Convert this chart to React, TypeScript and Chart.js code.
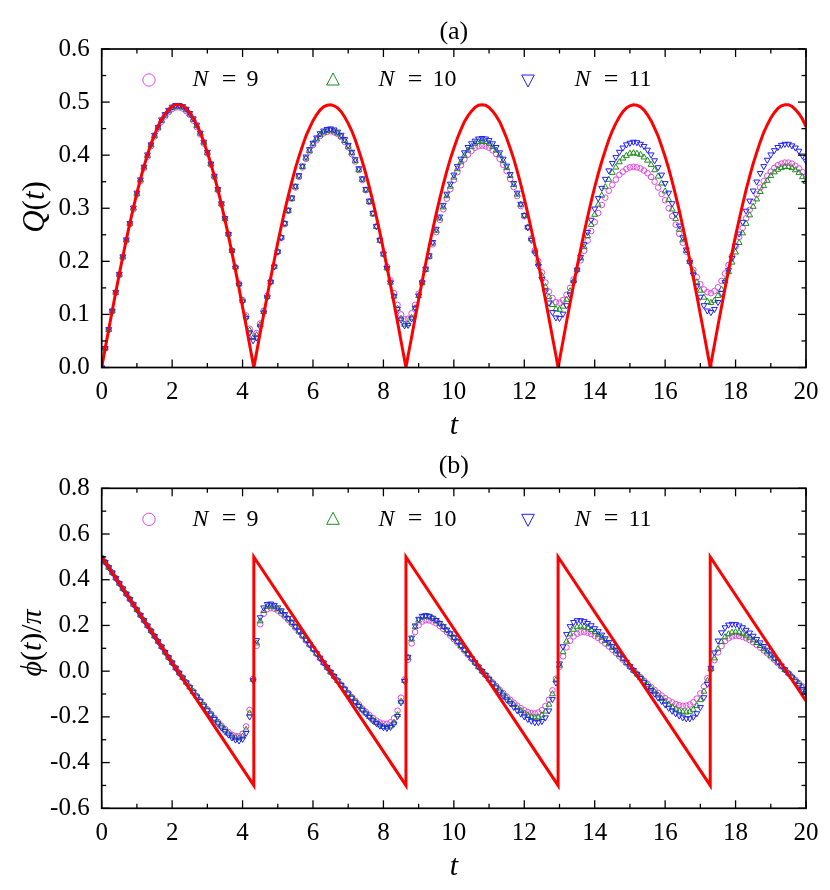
import React, { useEffect, useRef } from "react";
import { Chart, registerables } from "chart.js";

Chart.register(...registerables);

// ---------------- data ----------------
const T = [
  0, 0.1, 0.2, 0.3, 0.4, 0.5, 0.6, 0.7, 0.8, 0.9,
  1, 1.1, 1.2, 1.3, 1.4, 1.5, 1.6, 1.7, 1.8, 1.9,
  2, 2.1, 2.2, 2.3, 2.4, 2.5, 2.6, 2.7, 2.8, 2.9,
  3, 3.1, 3.2, 3.3, 3.4, 3.5, 3.6, 3.7, 3.8, 3.9,
  4, 4.1, 4.2, 4.3, 4.4, 4.5, 4.6, 4.7, 4.8, 4.9,
  5, 5.1, 5.2, 5.3, 5.4, 5.5, 5.6, 5.7, 5.8, 5.9,
  6, 6.1, 6.2, 6.3, 6.4, 6.5, 6.6, 6.7, 6.8, 6.9,
  7, 7.1, 7.2, 7.3, 7.4, 7.5, 7.6, 7.7, 7.8, 7.9,
  8, 8.1, 8.2, 8.3, 8.4, 8.5, 8.6, 8.7, 8.8, 8.9,
  9, 9.1, 9.2, 9.3, 9.4, 9.5, 9.6, 9.7, 9.8, 9.9,
  10, 10.1, 10.2, 10.3, 10.4, 10.5, 10.6, 10.7, 10.8, 10.9,
  11, 11.1, 11.2, 11.3, 11.4, 11.5, 11.6, 11.7, 11.8, 11.9,
  12, 12.1, 12.2, 12.3, 12.4, 12.5, 12.6, 12.7, 12.8, 12.9,
  13, 13.1, 13.2, 13.3, 13.4, 13.5, 13.6, 13.7, 13.8, 13.9,
  14, 14.1, 14.2, 14.3, 14.4, 14.5, 14.6, 14.7, 14.8, 14.9,
  15, 15.1, 15.2, 15.3, 15.4, 15.5, 15.6, 15.7, 15.8, 15.9,
  16, 16.1, 16.2, 16.3, 16.4, 16.5, 16.6, 16.7, 16.8, 16.9,
  17, 17.1, 17.2, 17.3, 17.4, 17.5, 17.6, 17.7, 17.8, 17.9,
  18, 18.1, 18.2, 18.3, 18.4, 18.5, 18.6, 18.7, 18.8, 18.9,
  19, 19.1, 19.2, 19.3, 19.4, 19.5, 19.6, 19.7, 19.8, 19.9,
  20,
];

// Panel (a): exact Q(t) (red line), sampled on T, plus its zeros
const Q_RED = [
  0, 0.036, 0.072, 0.107, 0.142, 0.176, 0.209, 0.241, 0.272, 0.301, 0.329, 0.355, 0.379, 0.401, 0.421, 0.439, 0.454, 0.468, 0.478, 0.486, 0.492, 0.495,
  0.495, 0.493, 0.488, 0.48, 0.47, 0.457, 0.443, 0.425, 0.405, 0.384, 0.36, 0.335, 0.307, 0.278, 0.248, 0.216, 0.183, 0.149, 0.114, 0.079, 0.043, 0.007,
  0.029, 0.065, 0.1, 0.135, 0.169, 0.202, 0.235, 0.266, 0.296, 0.324, 0.35, 0.375, 0.397, 0.417, 0.436, 0.451, 0.465, 0.476, 0.485, 0.491, 0.494, 0.495,
  0.493, 0.489, 0.482, 0.472, 0.46, 0.446, 0.429, 0.409, 0.388, 0.365, 0.34, 0.313, 0.284, 0.254, 0.222, 0.19, 0.156, 0.121, 0.086, 0.05, 0.014,
  0.022, 0.057, 0.093, 0.128, 0.162, 0.196, 0.229, 0.26, 0.29, 0.318, 0.345, 0.37, 0.393, 0.413, 0.432, 0.448, 0.463, 0.474, 0.483, 0.49, 0.494, 0.495,
  0.494, 0.49, 0.483, 0.474, 0.463, 0.448, 0.432, 0.413, 0.393, 0.37, 0.345, 0.318, 0.29, 0.26, 0.229, 0.196, 0.162, 0.128, 0.093, 0.057, 0.022,
  0.014, 0.05, 0.086, 0.121, 0.156, 0.19, 0.222, 0.254, 0.284, 0.313, 0.34, 0.365, 0.388, 0.409, 0.429, 0.446, 0.46, 0.472, 0.482, 0.489, 0.493, 0.495,
  0.494, 0.491, 0.485, 0.476, 0.465, 0.451, 0.436, 0.417, 0.397, 0.375, 0.35, 0.324, 0.296, 0.266, 0.235, 0.202, 0.169, 0.135, 0.1, 0.065, 0.029,
  0.007, 0.043, 0.079, 0.114, 0.149, 0.183, 0.216, 0.248, 0.278, 0.307, 0.335, 0.36, 0.384, 0.405, 0.425, 0.443, 0.457, 0.47, 0.48, 0.488, 0.493, 0.495,
  0.495, 0.492, 0.486, 0.478, 0.468, 0.454,
];
const Q_RED_ZERO_T = [4.32, 8.64, 12.96, 17.28];
const Q_RED_ZERO = [0, 0, 0, 0];

const Q_N9 = [
  0, 0.036, 0.071, 0.106, 0.141, 0.174, 0.207, 0.239, 0.27, 0.298, 0.326, 0.351, 0.375, 0.397, 0.417, 0.435, 0.45, 0.463, 0.473, 0.481, 0.487, 0.49,
  0.49, 0.488, 0.483, 0.476, 0.465, 0.453, 0.439, 0.422, 0.403, 0.382, 0.359, 0.334, 0.307, 0.28, 0.251, 0.22, 0.189, 0.158, 0.127, 0.098, 0.073, 0.06,
  0.065, 0.083, 0.107, 0.135, 0.162, 0.19, 0.218, 0.244, 0.27, 0.295, 0.318, 0.339, 0.359, 0.377, 0.393, 0.407, 0.419, 0.428, 0.436, 0.441, 0.444, 0.445,
  0.443, 0.44, 0.434, 0.425, 0.415, 0.402, 0.388, 0.372, 0.353, 0.334, 0.312, 0.29, 0.266, 0.241, 0.215, 0.19, 0.164, 0.14, 0.118, 0.1, 0.091,
  0.092, 0.102, 0.118, 0.139, 0.161, 0.185, 0.209, 0.232, 0.255, 0.278, 0.298, 0.318, 0.336, 0.353, 0.368, 0.381, 0.392, 0.401, 0.408, 0.414, 0.417, 0.418,
  0.417, 0.414, 0.409, 0.402, 0.393, 0.382, 0.37, 0.355, 0.34, 0.323, 0.304, 0.285, 0.264, 0.243, 0.221, 0.2, 0.179, 0.16, 0.143, 0.131, 0.123,
  0.122, 0.127, 0.137, 0.15, 0.166, 0.184, 0.202, 0.22, 0.239, 0.257, 0.274, 0.291, 0.306, 0.32, 0.333, 0.344, 0.354, 0.363, 0.369, 0.374, 0.377, 0.378,
  0.377, 0.375, 0.371, 0.366, 0.359, 0.35, 0.339, 0.327, 0.315, 0.3, 0.285, 0.269, 0.252, 0.235, 0.218, 0.201, 0.184, 0.17, 0.157, 0.147, 0.142,
  0.14, 0.144, 0.151, 0.163, 0.177, 0.193, 0.21, 0.228, 0.246, 0.263, 0.281, 0.297, 0.312, 0.326, 0.339, 0.351, 0.361, 0.369, 0.376, 0.381, 0.384, 0.386,
  0.386, 0.384, 0.38, 0.375, 0.368, 0.359,
];

const Q_N10 = [
  0, 0.036, 0.071, 0.106, 0.141, 0.175, 0.208, 0.24, 0.271, 0.3, 0.327, 0.353, 0.377, 0.399, 0.419, 0.436, 0.452, 0.465, 0.475, 0.483, 0.489, 0.492,
  0.492, 0.49, 0.485, 0.477, 0.467, 0.455, 0.441, 0.424, 0.404, 0.383, 0.36, 0.335, 0.308, 0.28, 0.251, 0.22, 0.189, 0.157, 0.126, 0.095, 0.07, 0.056,
  0.061, 0.08, 0.105, 0.133, 0.161, 0.19, 0.218, 0.245, 0.271, 0.295, 0.318, 0.34, 0.36, 0.378, 0.394, 0.408, 0.421, 0.43, 0.438, 0.443, 0.446, 0.447,
  0.445, 0.441, 0.435, 0.427, 0.416, 0.404, 0.389, 0.372, 0.354, 0.334, 0.312, 0.289, 0.265, 0.239, 0.213, 0.187, 0.16, 0.134, 0.111, 0.092, 0.081,
  0.082, 0.094, 0.112, 0.135, 0.159, 0.184, 0.209, 0.234, 0.258, 0.281, 0.302, 0.323, 0.341, 0.358, 0.374, 0.387, 0.399, 0.409, 0.416, 0.422, 0.425, 0.426,
  0.425, 0.422, 0.416, 0.409, 0.4, 0.389, 0.376, 0.361, 0.344, 0.326, 0.307, 0.286, 0.264, 0.242, 0.219, 0.196, 0.173, 0.152, 0.133, 0.118, 0.11,
  0.109, 0.115, 0.128, 0.144, 0.163, 0.184, 0.206, 0.227, 0.248, 0.269, 0.288, 0.307, 0.324, 0.34, 0.354, 0.367, 0.377, 0.387, 0.394, 0.399, 0.403, 0.404,
  0.403, 0.401, 0.396, 0.39, 0.382, 0.372, 0.36, 0.347, 0.332, 0.316, 0.298, 0.28, 0.26, 0.24, 0.22, 0.199, 0.18, 0.161, 0.145, 0.132, 0.124,
  0.122, 0.126, 0.135, 0.147, 0.163, 0.18, 0.198, 0.217, 0.235, 0.253, 0.271, 0.287, 0.303, 0.317, 0.331, 0.342, 0.352, 0.361, 0.368, 0.373, 0.376, 0.378,
  0.378, 0.376, 0.372, 0.367, 0.359, 0.35,
];

const Q_N11 = [
  0, 0.036, 0.072, 0.107, 0.142, 0.176, 0.209, 0.241, 0.272, 0.301, 0.329, 0.354, 0.378, 0.401, 0.42, 0.438, 0.453, 0.467, 0.477, 0.485, 0.491, 0.494,
  0.494, 0.492, 0.487, 0.479, 0.469, 0.457, 0.442, 0.425, 0.406, 0.384, 0.361, 0.336, 0.309, 0.281, 0.251, 0.22, 0.188, 0.156, 0.124, 0.093, 0.066, 0.051,
  0.056, 0.077, 0.103, 0.132, 0.161, 0.19, 0.218, 0.245, 0.272, 0.297, 0.32, 0.342, 0.362, 0.38, 0.397, 0.411, 0.423, 0.433, 0.441, 0.446, 0.449, 0.45,
  0.448, 0.444, 0.438, 0.43, 0.419, 0.406, 0.392, 0.375, 0.356, 0.336, 0.314, 0.291, 0.266, 0.24, 0.214, 0.187, 0.16, 0.134, 0.11, 0.09, 0.079,
  0.08, 0.092, 0.112, 0.135, 0.16, 0.186, 0.211, 0.236, 0.261, 0.284, 0.306, 0.327, 0.346, 0.363, 0.379, 0.393, 0.405, 0.415, 0.422, 0.427, 0.431, 0.432,
  0.431, 0.428, 0.422, 0.415, 0.405, 0.393, 0.38, 0.364, 0.347, 0.329, 0.308, 0.287, 0.264, 0.24, 0.216, 0.191, 0.166, 0.143, 0.122, 0.104, 0.094,
  0.093, 0.101, 0.117, 0.137, 0.16, 0.184, 0.208, 0.232, 0.255, 0.278, 0.299, 0.319, 0.338, 0.355, 0.371, 0.385, 0.396, 0.406, 0.414, 0.42, 0.423, 0.425,
  0.424, 0.421, 0.417, 0.41, 0.401, 0.39, 0.377, 0.363, 0.347, 0.329, 0.309, 0.289, 0.267, 0.245, 0.222, 0.198, 0.175, 0.153, 0.133, 0.117, 0.107,
  0.104, 0.11, 0.123, 0.14, 0.161, 0.183, 0.206, 0.229, 0.252, 0.274, 0.295, 0.314, 0.333, 0.35, 0.366, 0.379, 0.391, 0.401, 0.409, 0.415, 0.419, 0.421,
  0.421, 0.418, 0.414, 0.408, 0.399, 0.389,
];

// Panel (b): exact phase (red sawtooth) and numerical phases
const PHI_RED_T = [0, 4.32, 4.32, 8.64, 8.64, 12.96, 12.96, 17.28, 17.28, 20];
const PHI_RED = [0.5, -0.5, 0.5, -0.5, 0.5, -0.5, 0.5, -0.5, 0.5, -0.13];

const PHI_N9 = [
  0.495, 0.477, 0.454, 0.431, 0.407, 0.384, 0.361, 0.338, 0.315, 0.292, 0.269, 0.245, 0.222, 0.199, 0.176, 0.153, 0.13, 0.107, 0.083, 0.06, 0.037, 0.014,
  -0.008, -0.028, -0.049, -0.069, -0.089, -0.109, -0.129, -0.148, -0.167, -0.186, -0.204, -0.222, -0.238, -0.253, -0.267, -0.278, -0.284, -0.285, -0.274, -0.242, -0.17, -0.033,
  0.111, 0.205, 0.251, 0.271, 0.276, 0.273, 0.265, 0.253, 0.239, 0.224, 0.207, 0.19, 0.172, 0.153, 0.134, 0.115, 0.096, 0.076, 0.056, 0.036, 0.016, -0.004,
  -0.022, -0.041, -0.059, -0.077, -0.095, -0.113, -0.13, -0.146, -0.163, -0.178, -0.192, -0.205, -0.216, -0.225, -0.23, -0.23, -0.224, -0.206, -0.173, -0.116, -0.036,
  0.05, 0.121, 0.171, 0.201, 0.217, 0.223, 0.222, 0.217, 0.209, 0.198, 0.185, 0.171, 0.156, 0.14, 0.124, 0.107, 0.09, 0.072, 0.054, 0.036, 0.018, 0,
  -0.016, -0.033, -0.049, -0.065, -0.081, -0.096, -0.111, -0.125, -0.138, -0.151, -0.162, -0.171, -0.179, -0.183, -0.185, -0.181, -0.171, -0.153, -0.125, -0.084, -0.033,
  0.019, 0.065, 0.104, 0.133, 0.152, 0.164, 0.17, 0.171, 0.168, 0.162, 0.154, 0.145, 0.133, 0.121, 0.108, 0.094, 0.08, 0.065, 0.05, 0.034, 0.019, 0.003,
  -0.012, -0.026, -0.041, -0.055, -0.069, -0.082, -0.095, -0.107, -0.118, -0.128, -0.137, -0.144, -0.149, -0.152, -0.151, -0.146, -0.136, -0.12, -0.097, -0.067, -0.031,
  0.008, 0.048, 0.082, 0.11, 0.131, 0.144, 0.152, 0.155, 0.154, 0.15, 0.144, 0.136, 0.126, 0.115, 0.103, 0.091, 0.078, 0.064, 0.05, 0.035, 0.021, 0.006,
  -0.009, -0.024, -0.038, -0.053, -0.067, -0.08,
];

const PHI_N10 = [
  0.495, 0.477, 0.454, 0.431, 0.407, 0.384, 0.361, 0.338, 0.315, 0.292, 0.269, 0.245, 0.222, 0.199, 0.176, 0.153, 0.13, 0.107, 0.083, 0.06, 0.037, 0.014,
  -0.008, -0.029, -0.049, -0.07, -0.09, -0.11, -0.13, -0.15, -0.17, -0.189, -0.207, -0.225, -0.242, -0.258, -0.273, -0.284, -0.292, -0.294, -0.286, -0.256, -0.184, -0.037,
  0.122, 0.219, 0.264, 0.282, 0.285, 0.281, 0.271, 0.259, 0.244, 0.228, 0.211, 0.193, 0.175, 0.156, 0.136, 0.117, 0.097, 0.077, 0.057, 0.037, 0.016, -0.004,
  -0.023, -0.042, -0.061, -0.079, -0.098, -0.116, -0.134, -0.151, -0.168, -0.184, -0.2, -0.214, -0.226, -0.236, -0.243, -0.245, -0.241, -0.225, -0.192, -0.133, -0.042,
  0.059, 0.14, 0.193, 0.222, 0.236, 0.24, 0.237, 0.23, 0.22, 0.208, 0.194, 0.179, 0.163, 0.146, 0.129, 0.111, 0.093, 0.075, 0.056, 0.038, 0.019, 0,
  -0.017, -0.035, -0.052, -0.069, -0.085, -0.101, -0.117, -0.133, -0.147, -0.161, -0.173, -0.184, -0.193, -0.2, -0.203, -0.201, -0.193, -0.176, -0.146, -0.1, -0.04,
  0.025, 0.084, 0.13, 0.162, 0.182, 0.193, 0.196, 0.195, 0.189, 0.181, 0.171, 0.16, 0.147, 0.133, 0.118, 0.103, 0.087, 0.071, 0.054, 0.037, 0.02, 0.003,
  -0.013, -0.029, -0.045, -0.061, -0.076, -0.091, -0.106, -0.12, -0.133, -0.146, -0.157, -0.166, -0.174, -0.179, -0.18, -0.177, -0.168, -0.152, -0.126, -0.089, -0.042,
  0.01, 0.057, 0.097, 0.128, 0.149, 0.162, 0.169, 0.171, 0.169, 0.164, 0.156, 0.147, 0.136, 0.124, 0.111, 0.097, 0.083, 0.068, 0.053, 0.038, 0.022, 0.006,
  -0.009, -0.025, -0.041, -0.056, -0.071, -0.086,
];

const PHI_N11 = [
  0.495, 0.477, 0.454, 0.431, 0.407, 0.384, 0.361, 0.338, 0.315, 0.292, 0.269, 0.245, 0.222, 0.199, 0.176, 0.153, 0.13, 0.107, 0.083, 0.06, 0.037, 0.014,
  -0.008, -0.029, -0.05, -0.071, -0.091, -0.112, -0.132, -0.152, -0.172, -0.191, -0.21, -0.229, -0.247, -0.263, -0.278, -0.291, -0.3, -0.304, -0.297, -0.271, -0.199, -0.041,
  0.135, 0.235, 0.278, 0.293, 0.295, 0.289, 0.278, 0.265, 0.249, 0.232, 0.215, 0.196, 0.177, 0.158, 0.138, 0.118, 0.098, 0.078, 0.058, 0.037, 0.017, -0.004,
  -0.023, -0.042, -0.061, -0.08, -0.099, -0.117, -0.135, -0.153, -0.17, -0.186, -0.201, -0.216, -0.228, -0.239, -0.246, -0.249, -0.245, -0.23, -0.197, -0.137, -0.044,
  0.062, 0.146, 0.199, 0.228, 0.241, 0.244, 0.241, 0.233, 0.223, 0.21, 0.196, 0.181, 0.165, 0.148, 0.13, 0.112, 0.094, 0.075, 0.057, 0.038, 0.019, 0,
  -0.018, -0.036, -0.054, -0.072, -0.09, -0.107, -0.124, -0.141, -0.157, -0.172, -0.186, -0.199, -0.21, -0.218, -0.224, -0.224, -0.219, -0.203, -0.173, -0.123, -0.051,
  0.033, 0.108, 0.162, 0.196, 0.214, 0.222, 0.222, 0.218, 0.21, 0.2, 0.187, 0.174, 0.159, 0.143, 0.127, 0.11, 0.093, 0.076, 0.058, 0.04, 0.022, 0.004,
  -0.014, -0.031, -0.049, -0.066, -0.083, -0.099, -0.116, -0.131, -0.146, -0.161, -0.174, -0.185, -0.195, -0.203, -0.207, -0.207, -0.2, -0.185, -0.158, -0.115, -0.056,
  0.014, 0.081, 0.133, 0.169, 0.191, 0.203, 0.206, 0.205, 0.199, 0.191, 0.18, 0.168, 0.154, 0.14, 0.125, 0.109, 0.093, 0.076, 0.059, 0.042, 0.024, 0.007,
  -0.011, -0.028, -0.045, -0.062, -0.079, -0.096,
];

const LEGEND_NUMBERS = ["9", "10", "11"];

// ---------------- styling ----------------
const COLOR_N9 = "rgb(222, 70, 222)";
const COLOR_N10 = "rgb(30, 140, 30)";
const COLOR_N11 = "rgb(30, 30, 255)";
const COLOR_RED = "#ff0000";
const FONT = '"Liberation Serif", "DejaVu Serif", "Times New Roman", serif';

type Part = { t: string; it?: boolean };

function drawParts(
  ctx: CanvasRenderingContext2D,
  parts: Part[],
  size: number,
  cx: number,
  cy: number,
  rot: number,
  align: "center" | "left" = "center"
) {
  ctx.save();
  ctx.translate(cx, cy);
  if (rot) ctx.rotate(rot);
  const fontFor = (p: Part) => `${p.it ? "italic " : ""}${size}px ${FONT}`;
  const widths = parts.map((p) => {
    ctx.font = fontFor(p);
    return ctx.measureText(p.t).width;
  });
  const total = widths.reduce((a, b) => a + b, 0);
  let x = align === "center" ? -total / 2 : 0;
  ctx.textBaseline = "middle";
  ctx.textAlign = "left";
  ctx.fillStyle = "#000";
  parts.forEach((p, i) => {
    ctx.font = fontFor(p);
    ctx.fillText(p.t, x, 0);
    x += widths[i];
  });
  ctx.restore();
}

function drawSymbol(ctx: CanvasRenderingContext2D, shape: string, x: number, y: number, color: string) {
  ctx.save();
  ctx.strokeStyle = color;
  ctx.lineWidth = 1;
  ctx.beginPath();
  if (shape === "circle") {
    ctx.arc(x, y, 6.2, 0, Math.PI * 2);
  } else if (shape === "up") {
    ctx.moveTo(x, y - 7);
    ctx.lineTo(x + 6.3, y + 5);
    ctx.lineTo(x - 6.3, y + 5);
    ctx.closePath();
  } else {
    ctx.moveTo(x, y + 7);
    ctx.lineTo(x + 6.3, y - 5);
    ctx.lineTo(x - 6.3, y - 5);
    ctx.closePath();
  }
  ctx.stroke();
  ctx.restore();
}

type PanelSpec = {
  height: number;
  areaTop: number;
  areaBottom: number;
  yMin: number;
  yMax: number;
  yStep: number;
  title: string;
  titleY: number;
  yLabel: Part[];
  yLabelSize: number;
  yLabelX: number;
  yLabelY: number;
  tLabelY: number;
  legendY: number;
  red: { x: number; y: number }[];
  n9: number[];
  n10: number[];
  n11: number[];
};

function decorPlugin(spec: PanelSpec) {
  return {
    id: "decor",
    afterDraw(chart: any) {
      const ctx: CanvasRenderingContext2D = chart.ctx;
      const a = chart.chartArea;
      const xs = chart.scales.x;
      const ys = chart.scales.y;
      ctx.save();
      ctx.strokeStyle = "#000";
      ctx.lineWidth = 1.7;
      ctx.strokeRect(a.left, a.top, a.right - a.left, a.bottom - a.top);
      ctx.lineWidth = 1.3;
      const seg = (x1: number, y1: number, x2: number, y2: number) => {
        ctx.beginPath();
        ctx.moveTo(x1, y1);
        ctx.lineTo(x2, y2);
        ctx.stroke();
      };
      const withMinor = (vals: number[]) => {
        const out: [number, boolean][] = [];
        for (let i = 0; i < vals.length; i++) {
          out.push([vals[i], true]);
          if (i < vals.length - 1) out.push([(vals[i] + vals[i + 1]) / 2, false]);
        }
        return out;
      };
      withMinor(xs.ticks.map((t: any) => t.value)).forEach(([v, major]) => {
        const p = xs.getPixelForValue(v);
        const L = major ? 8 : 4.5;
        seg(p, a.bottom, p, a.bottom - L);
        seg(p, a.top, p, a.top + L);
      });
      withMinor(ys.ticks.map((t: any) => t.value)).forEach(([v, major]) => {
        const p = ys.getPixelForValue(v);
        const L = major ? 8 : 4.5;
        seg(a.left, p, a.left + L, p);
        seg(a.right, p, a.right - L, p);
      });
      ctx.restore();

      // title, axis titles
      drawParts(ctx, [{ t: spec.title }], 26, (a.left + a.right) / 2, spec.titleY, 0);
      drawParts(ctx, [{ t: "t", it: true }], 30, (a.left + a.right) / 2, spec.tLabelY, 0);
      drawParts(ctx, spec.yLabel, spec.yLabelSize, spec.yLabelX, spec.yLabelY, -Math.PI / 2);

      // legend
      const items = [
        { shape: "circle", color: COLOR_N9, sx: 149, tx: 192.5, num: LEGEND_NUMBERS[0] },
        { shape: "up", color: COLOR_N10, sx: 333, tx: 378.5, num: LEGEND_NUMBERS[1] },
        { shape: "down", color: COLOR_N11, sx: 528, tx: 574.5, num: LEGEND_NUMBERS[2] },
      ];
      items.forEach((it) => {
        drawSymbol(ctx, it.shape, it.sx, spec.legendY, it.color);
        drawParts(ctx, [{ t: "N", it: true }], 24, it.tx, spec.legendY, 0, "left");
        drawParts(ctx, [{ t: "=" }], 26, it.tx + 36.5, spec.legendY, 0, "center");
        drawParts(ctx, [{ t: it.num }], 24, it.tx + 54, spec.legendY, 0, "left");
      });
    },
  };
}

function makeChart(canvas: HTMLCanvasElement, spec: PanelSpec) {
  const pts = (ys: number[]) => T.map((x, i) => ({ x, y: ys[i] }));
  const marker = (label: string, ys: number[], color: string, style: string, rot: number, r: number, order: number) => ({
    label,
    data: pts(ys),
    showLine: false,
    pointStyle: style,
    rotation: rot,
    pointRadius: r,
    pointHoverRadius: r,
    pointBorderWidth: 1,
    borderColor: color,
    pointBorderColor: color,
    backgroundColor: "rgba(0,0,0,0)",
    pointBackgroundColor: "rgba(0,0,0,0)",
    order,
  });
  const fmtY = (v: number) => (Math.abs(v) < 1e-9 ? "0.0" : Number(v).toFixed(1));
  return new Chart(canvas, {
    type: "scatter",
    data: {
      datasets: [
        {
          label: "exact",
          data: spec.red,
          showLine: true,
          borderColor: COLOR_RED,
          backgroundColor: COLOR_RED,
          borderWidth: 3,
          pointRadius: 0,
          pointHoverRadius: 0,
          tension: 0,
          order: 0,
        } as any,
        marker("N = 11", spec.n11, COLOR_N11, "triangle", 180, 3.4, 1),
        marker("N = 10", spec.n10, COLOR_N10, "triangle", 0, 3.4, 2),
        marker("N = 9", spec.n9, COLOR_N9, "circle", 0, 2.8, 3),
      ],
    },
    options: {
      responsive: false,
      animation: false,
      events: [],
      layout: { padding: { left: 0, right: 24, top: spec.areaTop, bottom: 0 } },
      plugins: { legend: { display: false }, tooltip: { enabled: false }, title: { display: false } },
      scales: {
        x: {
          type: "linear",
          min: 0,
          max: 20,
          afterFit: (s: any) => {
            s.height = spec.height - spec.areaBottom;
          },
          grid: { display: false, drawTicks: false },
          border: { display: false },
          ticks: {
            stepSize: 2,
            autoSkip: false,
            maxRotation: 0,
            padding: 10,
            color: "#000",
            font: { family: FONT, size: 25 },
            callback: (v: any) => String(v),
          },
        },
        y: {
          type: "linear",
          min: spec.yMin,
          max: spec.yMax,
          afterFit: (s: any) => {
            s.width = 101.7;
          },
          grid: { display: false, drawTicks: false },
          border: { display: false },
          ticks: {
            stepSize: spec.yStep,
            autoSkip: false,
            padding: 12,
            color: "#000",
            font: { family: FONT, size: 25 },
            callback: (v: any) => fmtY(v),
          },
        },
      },
    } as any,
    plugins: [decorPlugin(spec) as any],
  });
}

export default function App() {
  const refA = useRef<HTMLCanvasElement | null>(null);
  const refB = useRef<HTMLCanvasElement | null>(null);

  useEffect(() => {
    const redQ = T.map((x, i) => ({ x, y: Q_RED[i] }))
      .concat(Q_RED_ZERO_T.map((x, i) => ({ x, y: Q_RED_ZERO[i] })))
      .sort((p, q) => p.x - q.x);
    const redPhi = PHI_RED_T.map((x, i) => ({ x, y: PHI_RED[i] }));

    const specA: PanelSpec = {
      height: 445,
      areaTop: 49,
      areaBottom: 367.5,
      yMin: 0,
      yMax: 0.6,
      yStep: 0.1,
      title: "(a)",
      titleY: 32.5,
      yLabel: [{ t: "Q", it: true }, { t: "(" }, { t: "t", it: true }, { t: ")" }],
      yLabelSize: 31,
      yLabelX: 36,
      yLabelY: 207,
      tLabelY: 426,
      legendY: 80,
      red: redQ,
      n9: Q_N9,
      n10: Q_N10,
      n11: Q_N11,
    };
    const specB: PanelSpec = {
      height: 445,
      areaTop: 43.3,
      areaBottom: 363.3,
      yMin: -0.6,
      yMax: 0.8,
      yStep: 0.2,
      title: "(b)",
      titleY: 21,
      yLabel: [{ t: "ϕ", it: true }, { t: "(" }, { t: "t", it: true }, { t: ")/" }, { t: "π", it: true }],
      yLabelSize: 30,
      yLabelX: 33,
      yLabelY: 198,
      tLabelY: 422,
      legendY: 74.3,
      red: redPhi,
      n9: PHI_N9,
      n10: PHI_N10,
      n11: PHI_N11,
    };
    const cA = refA.current ? makeChart(refA.current, specA) : null;
    const cB = refB.current ? makeChart(refB.current, specB) : null;
    return () => {
      cA && cA.destroy();
      cB && cB.destroy();
    };
  }, []);

  return (
    <div style={{ position: "absolute", left: 0, top: 0, width: 830, height: 890, background: "#fff" }}>
      <canvas ref={refA} width={830} height={445} style={{ position: "absolute", left: 0, top: 0, width: 830, height: 445 }} />
      <canvas ref={refB} width={830} height={445} style={{ position: "absolute", left: 0, top: 445, width: 830, height: 445 }} />
    </div>
  );
}
